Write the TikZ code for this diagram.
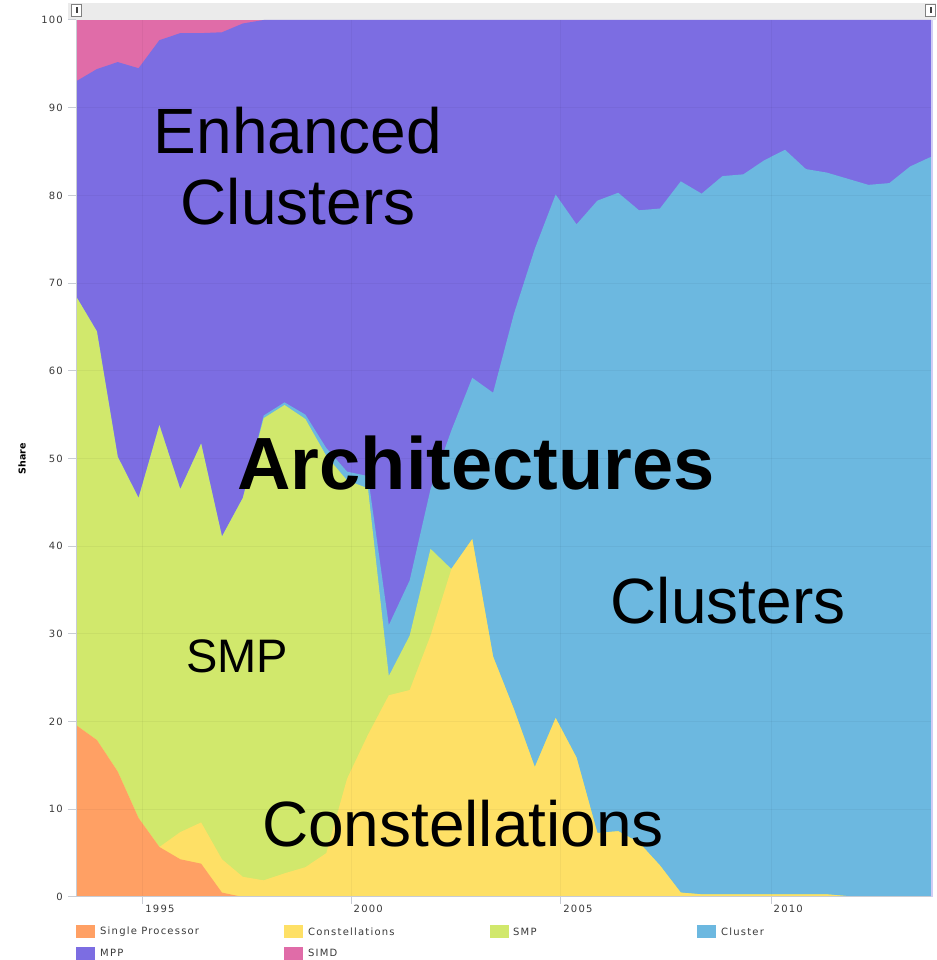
\documentclass[tikz,border=0pt]{standalone}
\usepackage{fontspec}
\newfontfamily\labfont{Liberation Sans}
\newfontfamily\tickfont[LetterSpace=12]{DejaVu Sans}
\newfontfamily\axfont{DejaVu Sans}
\definecolor{spc}{HTML}{FFA064}
\definecolor{conc}{HTML}{FEE066}
\definecolor{smpc}{HTML}{D1E86C}
\definecolor{clc}{HTML}{6CB8E0}
\definecolor{mppc}{HTML}{7C6DE2}
\definecolor{simdc}{HTML}{E06CA8}
\definecolor{txtc}{HTML}{3A3A3A}
\definecolor{axc}{HTML}{C8CCD4}
\def\lone{19.6,17.9,14.3,9.0,5.7,4.3,3.8,0.5}
\def\ltwo{19.6,17.9,14.3,9.0,5.7,7.4,8.5,4.3,2.3,1.9,2.7,3.4,5.0,13.5,18.5,23.0,23.6,29.8,37.4,40.8,27.4,21.4,14.8,20.4,15.9,7.3,7.5,6.2,3.6,0.5,0.3,0.3,0.3,0.3,0.3,0.3,0.3,0.1,0,0,0,0}
\def\lthree{68.5,64.5,50.2,45.5,53.8,46.5,51.7,41.1,45.5,54.6,56.1,54.5,50.3,47.5,46.6,25.2,29.8,39.7,37.4,40.8,27.4,21.4,14.8,20.4,15.9,7.3,7.5,6.2,3.6,0.5,0.3,0.3,0.3,0.3,0.3,0.3,0.3,0.1,0,0,0,0}
\def\lfour{68.5,64.5,50.2,45.5,53.8,46.5,51.7,41.1,45.5,54.9,56.4,55.0,51.2,48.5,48.0,31.0,36.1,46.5,53.2,59.2,57.5,66.5,73.9,80.1,76.7,79.4,80.3,78.3,78.5,81.6,80.2,82.2,82.4,84.0,85.2,83.0,82.6,81.9,81.2,81.4,83.3,84.4}
\def\lfive{93.0,94.4,95.2,94.5,97.7,98.5,98.5,98.6,99.6,100,100,100,100,100,100,100,100,100,100,100,100,100,100,100,100,100,100,100,100,100,100,100,100,100,100,100,100,100,100,100,100,100}
\tikzset{
  ticklab/.style={font=\tickfont\fontsize{10}{12}\selectfont, text=txtc, inner sep=0pt},
  leglab/.style={font=\tickfont\fontsize{10}{12}\selectfont, text=txtc, inner sep=0pt, anchor=west},
  legsq/.style={minimum width=19pt, minimum height=13pt, inner sep=0pt, anchor=west},
  biglab/.style={font=\labfont\fontsize{64}{70}\selectfont, text=black, inner sep=0pt, anchor=base},
  gridln/.style={black, opacity=0.04, line width=1pt},
  axln/.style={axc, line width=1pt}
}
\begin{document}
\begin{tikzpicture}[x=1pt,y=1pt]
\useasboundingbox (0,0) rectangle (936,960);
\fill[white] (0,0) rectangle (936,960);
% top scroll bar
\fill[black!8] (68,940) rectangle (936,957);
\draw[fill=white, draw=black!50, line width=0.8pt] (71.5,944) rectangle (81.5,955.5);
\fill[black!75] (75.5,946.5) rectangle (77.5,953);
\draw[fill=white, draw=black!50, line width=0.8pt] (925.5,944) rectangle (935.5,955.5);
\fill[black!75] (929.5,946.5) rectangle (931.5,953);
% stacked areas
\begin{scope}[shift={(76,63)}, x=20.854pt, y=8.77pt]
  \fill[simdc] (0,0) rectangle (41,100);
  \fill[mppc] (0,0) \foreach \v [count=\i from 0] in \lfive { -- (\i,\v) } -- (41,0) -- cycle;
  \fill[clc] (0,0) \foreach \v [count=\i from 0] in \lfour { -- (\i,\v) } -- (41,0) -- cycle;
  \fill[smpc] (0,0) \foreach \v [count=\i from 0] in \lthree { -- (\i,\v) } -- (41,0) -- cycle;
  \fill[conc] (0,0) \foreach \v [count=\i from 0] in \ltwo { -- (\i,\v) } -- (41,0) -- cycle;
  \fill[spc] (0,0) \foreach \v [count=\i from 0] in \lone { -- (\i,\v) } -- (8,0) -- cycle;
  \foreach \v in {10,20,...,90} \draw[gridln] (0,\v) -- (41,\v);
\end{scope}
\foreach \x in {142.7,351,560.7,771} \draw[gridln] (\x,63) -- (\x,940);
\draw[mppc!35, line width=1.5pt] (932,63) -- (932,940);
% axes
\draw[axln] (76.5,63) -- (76.5,940);
\draw[axln] (68,63) -- (931,63);
\foreach \v in {0,10,...,100} {
  \draw[axln] (68,{63+8.77*\v}) -- (76,{63+8.77*\v});
  \node[ticklab, anchor=east] (yl\v) at (63,{63+8.77*\v}) {\v};
}
\foreach \x/\yr in {142.7/1995,351/2000,560.7/2005,771/2010} {
  \draw[axln] (\x,63) -- (\x,56);
  \node[ticklab, anchor=west] (xl\yr) at (\x+2.5,51) {\yr};
}
\node[font=\axfont\bfseries\fontsize{9.5}{11}\selectfont, rotate=90, inner sep=0pt] (share) at (22,501) {Share};
% legend
\node[legsq, fill=spc] (sq1) at (76,28) {};
\node[leglab] (lg1) at (100,28) {Single Processor};
\node[legsq, fill=conc] (sq2) at (284,28) {};
\node[leglab] (lg2) at (308,28) {Constellations};
\node[legsq, fill=smpc] (sq3) at (490,28) {};
\node[leglab] (lg3) at (513,28) {SMP};
\node[legsq, fill=clc] (sq4) at (697,28) {};
\node[leglab] (lg4) at (721,28) {Cluster};
\node[legsq, fill=mppc] (sq5) at (76,6) {};
\node[leglab] (lg5) at (100,7) {MPP};
\node[legsq, fill=simdc] (sq6) at (284,6) {};
\node[leglab] (lg6) at (308,7) {SIMD};
% big labels
\node[biglab] (enh1) at (298,806) {Enhanced};
\node[biglab] (enh2) at (298,735) {Clusters};
\node[biglab, font=\labfont\bfseries\fontsize{74}{80}\selectfont] (arch) at (476,470) {Architectures};
\node[biglab] (clus) at (728,336) {Clusters};
\node[biglab, font=\labfont\fontsize{47}{52}\selectfont] (smp) at (237,287) {SMP};
\node[biglab] (const) at (463,113) {Constellations};
\end{tikzpicture}
\end{document}
